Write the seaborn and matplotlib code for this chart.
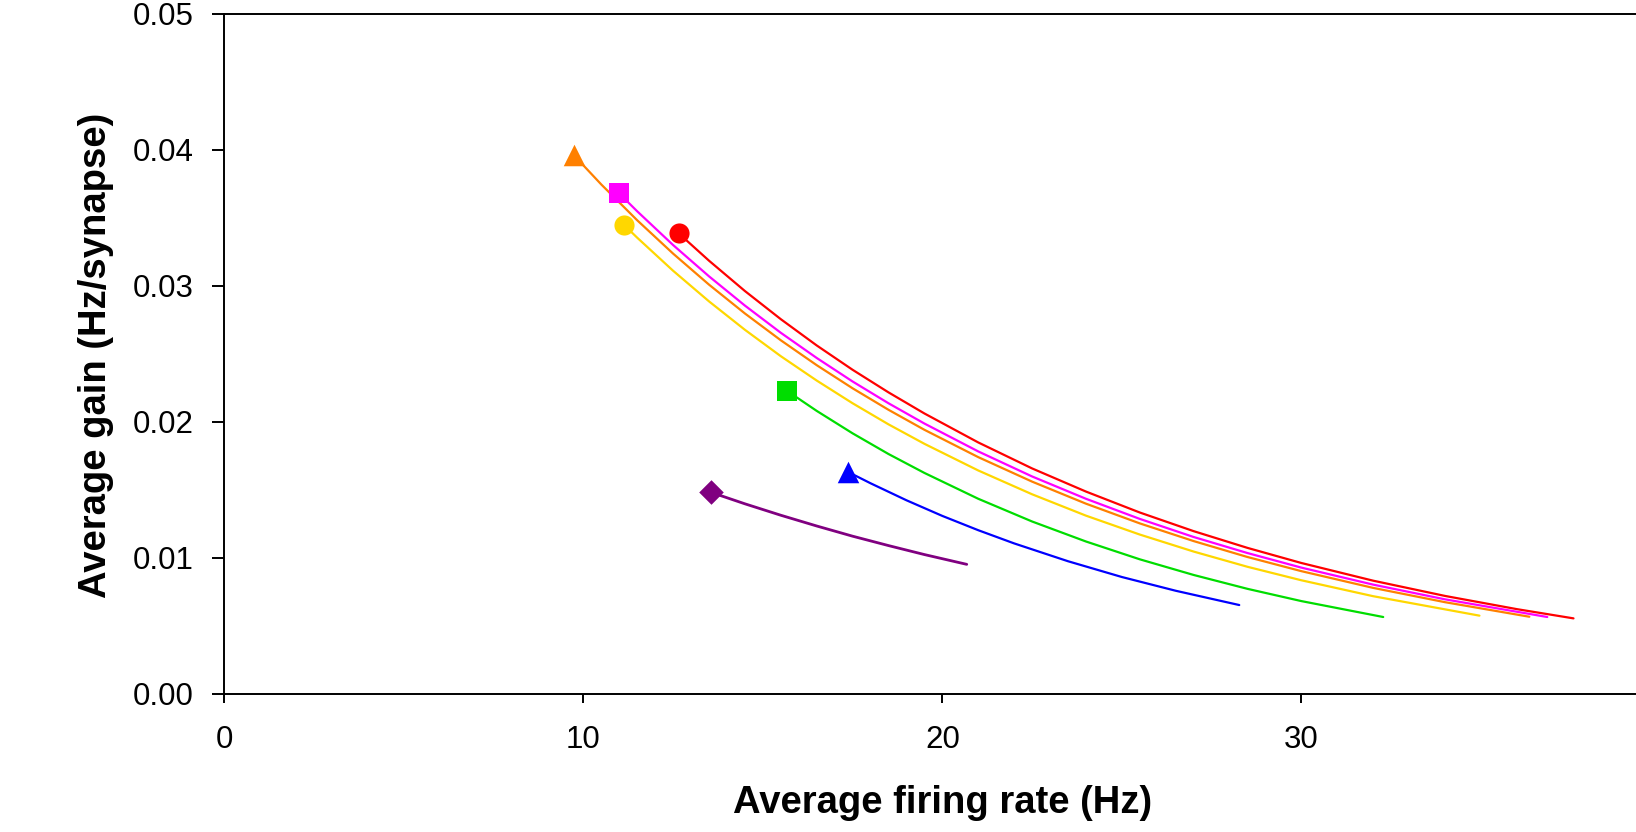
import matplotlib
matplotlib.use("Agg")
import matplotlib.pyplot as plt
import seaborn as sns
import pandas as pd

# firing rate (Hz) / gain (Hz/synapse), first point = marker
orange_rate = [9.74, 10.5, 11.5, 12.5, 13.5, 14.5, 15.5, 16.5, 17.5, 18.5, 19.5, 21, 22.5,
               24, 25.5, 27, 28.5, 30, 32, 34, 36.35]
orange_gain = [0.03958, 0.03744, 0.03481, 0.03236, 0.03008, 0.02796, 0.02599, 0.02416,
               0.02246, 0.02088, 0.01941, 0.01740, 0.01560, 0.01398, 0.01253, 0.01123,
               0.01006, 0.00902, 0.00779, 0.00674, 0.00567]

magenta_rate = [11.0, 11.5, 12.5, 13.5, 14.5, 15.5, 16.5, 17.5, 18.5, 19.5, 21, 22.5,
                24, 25.5, 27, 28.5, 30, 32, 34, 36.85]
magenta_gain = [0.03678, 0.03547, 0.03299, 0.03069, 0.02854, 0.02654, 0.02469, 0.02296,
                0.02136, 0.01987, 0.01782, 0.01598, 0.01434, 0.01286, 0.01153, 0.01035,
                0.00928, 0.00803, 0.00695, 0.00565]

yellow_rate = [11.14, 11.5, 12.5, 13.5, 14.5, 15.5, 16.5, 17.5, 18.5, 19.5, 21, 22.5,
               24, 25.5, 27, 28.5, 30, 32, 34.96]
yellow_gain = [0.03445, 0.03353, 0.03110, 0.02885, 0.02676, 0.02482, 0.02303, 0.02136,
               0.01981, 0.01838, 0.01642, 0.01467, 0.01310, 0.01171, 0.01046, 0.00934,
               0.00835, 0.00718, 0.00575]

red_rate = [12.66, 13.5, 14.5, 15.5, 16.5, 17.5, 18.5, 19.5, 21, 22.5, 24, 25.5, 27,
            28.5, 30, 32, 34, 36, 37.58]
red_gain = [0.03384, 0.03184, 0.02961, 0.02754, 0.02561, 0.02382, 0.02216, 0.02061,
            0.01848, 0.01657, 0.01487, 0.01333, 0.01196, 0.01073, 0.00962, 0.00832,
            0.00720, 0.00623, 0.00555]

green_rate = [15.67, 16.5, 17.5, 18.5, 19.5, 21, 22.5, 24, 25.5, 27, 28.5, 30, 32.28]
green_gain = [0.02228, 0.02080, 0.01915, 0.01763, 0.01624, 0.01434, 0.01267, 0.01120,
              0.00989, 0.00874, 0.00772, 0.00682, 0.00565]

blue_rate = [17.36, 18, 19, 20, 21, 22, 23.5, 25, 26.5, 28.27]
blue_gain = [0.01633, 0.01548, 0.01423, 0.01308, 0.01203, 0.01106, 0.00975, 0.00859,
             0.00758, 0.00653]

purple_rate = [13.56, 14.5, 15.5, 16.5, 17.5, 18.5, 19.5, 20.68]
purple_gain = [0.01481, 0.01397, 0.01313, 0.01234, 0.01159, 0.01090, 0.01024, 0.00952]

x_ticks = [0, 10, 20, 30]
y_ticks = [0.00, 0.01, 0.02, 0.03, 0.04, 0.05]

curves = [
    ("red", red_rate, red_gain, "#FF0000", "o", 14.5, 1.6),
    ("yellow", yellow_rate, yellow_gain, "#FFD700", "o", 14.5, 1.6),
    ("orange", orange_rate, orange_gain, "#FF8000", "^", 15.5, 1.6),
    ("magenta", magenta_rate, magenta_gain, "#FF00FF", "s", 14, 1.6),
    ("green", green_rate, green_gain, "#00DD00", "s", 14, 1.6),
    ("blue", blue_rate, blue_gain, "#0000FF", "^", 15.5, 1.6),
    ("purple", purple_rate, purple_gain, "#800080", "D", 12.5, 2.0),
]

sns.set_style("ticks")
plt.rcParams["font.family"] = ["Liberation Sans", "DejaVu Sans"]
for key in ["text.color", "axes.labelcolor", "xtick.color", "ytick.color", "axes.edgecolor"]:
    plt.rcParams[key] = "black"

fig = plt.figure(figsize=(16.36, 8.32), dpi=100)
# axes run 0..40 but the picture is cut at ~39.3
ax = fig.add_axes([0.1371, 0.166, 0.8778, 0.8177])

for name, rate, gain, color, marker, msize, lw in curves:
    df = pd.DataFrame({"rate": rate, "gain": gain})
    sns.lineplot(data=df, x="rate", y="gain", color=color, linewidth=lw,
                 estimator=None, sort=False, ax=ax)
    sns.scatterplot(x=rate[:1], y=gain[:1], marker=marker, color=color,
                    s=msize ** 2, linewidth=0, ax=ax, zorder=3)

ax.set_xlim(0, 40)
ax.set_ylim(0, 0.05)
ax.set_xticks(x_ticks)
ax.set_yticks(y_ticks)
ax.set_yticklabels(["%.2f" % v for v in y_ticks])
ax.tick_params(axis="both", labelsize=22.5, width=1.4, color="black", labelcolor="black")
ax.tick_params(axis="x", length=6.5, pad=16)
ax.tick_params(axis="y", length=9, pad=13)

for side in ["left", "top", "bottom"]:
    ax.spines[side].set_linewidth(1.4)
    ax.spines[side].set_color("black")
ax.spines["right"].set_visible(False)

ax.set_xlabel("Average firing rate (Hz)", fontsize=27.5, fontweight="bold", color="black")
ax.set_ylabel("Average gain (Hz/synapse)", fontsize=27.5, fontweight="bold", color="black")
ax.xaxis.set_label_coords(0.5, -0.160)
ax.xaxis.label.set_verticalalignment("center")
ax.yaxis.set_label_coords(-0.089, 0.497)
ax.yaxis.label.set_verticalalignment("center")

fig.savefig("out.png", dpi=100)
